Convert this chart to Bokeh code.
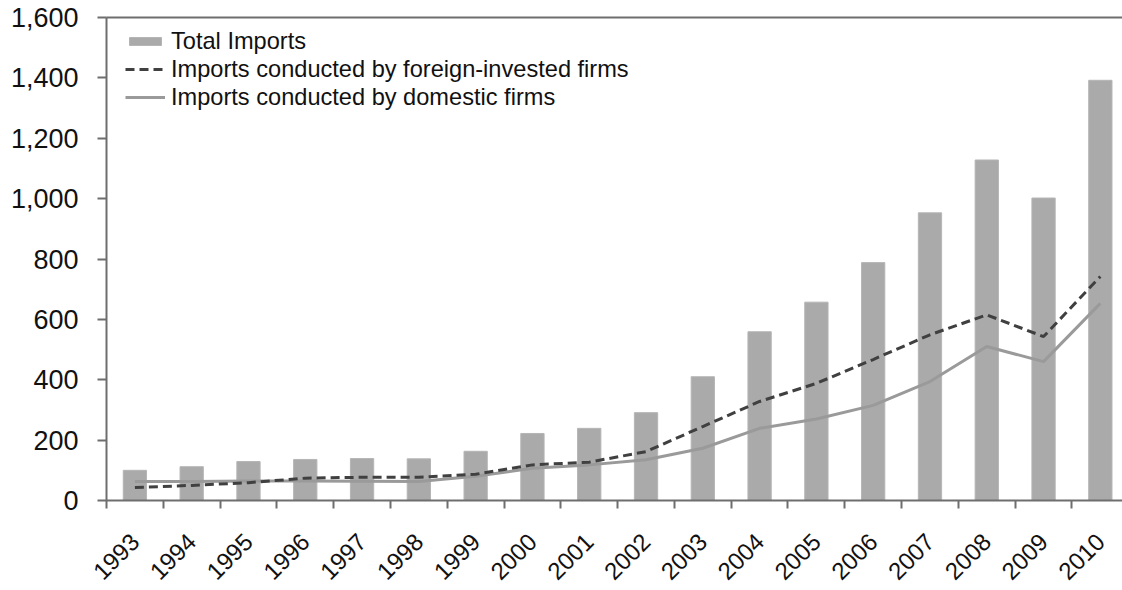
import math
from bokeh.plotting import figure
from bokeh.models import (Range1d, FixedTicker, LinearAxis, NumeralTickFormatter,
                          ColumnDataSource, Legend, LegendItem)
from bokeh.embed import file_html
from bokeh.resources import INLINE

years = [str(y) for y in range(1993, 2011)]
total_imports = [100, 112, 129, 136, 139, 138, 163, 222, 239, 291, 410, 559,
                 657, 788, 953, 1128, 1002, 1392]
foreign_firms = [43, 50, 59, 74, 77, 77, 87, 118, 127, 162, 245, 328,
                 388, 467, 549, 615, 543, 742]
domestic_firms = [63, 63, 65, 65, 64, 63, 80, 107, 118, 135, 173, 239,
                  270, 315, 394, 510, 460, 653]
y_ticks = [0, 200, 400, 600, 800, 1000, 1200, 1400, 1600]

xpos = list(range(len(years)))
src = ColumnDataSource(dict(x=xpos, total=total_imports, foreign=foreign_firms,
                            domestic=domestic_firms))

FONT = "Liberation Sans"
AXIS_COLOR = "#6e6e6e"

p = figure(width=1122, height=590, output_backend="svg", toolbar_location=None,
           x_range=Range1d(-0.5, 17.39), y_range=Range1d(0, 1600),
           x_axis_type=None, y_axis_type=None)
p.min_border_left = 106
p.min_border_right = 0
p.min_border_top = 17
p.min_border_bottom = 90
p.outline_line_color = None
p.xgrid.visible = False
p.ygrid.visible = False
p.background_fill_color = "white"
p.border_fill_color = "white"

bars = p.vbar(x="x", top="total", width=0.41, source=src,
              fill_color="#aaaaaa", line_color="#b5b5b5", line_width=1)
dom = p.line(x="x", y="domestic", source=src, line_color="#9a9a9a", line_width=3)
forl = p.line(x="x", y="foreign", source=src, line_color="#404040", line_width=3,
              line_dash="9 5")

# y axis
yax = LinearAxis(ticker=FixedTicker(ticks=y_ticks),
                 formatter=NumeralTickFormatter(format="0,0"))
yax.axis_line_color = AXIS_COLOR
yax.axis_line_width = 2
yax.major_tick_line_color = AXIS_COLOR
yax.major_tick_line_width = 2
yax.major_tick_out = 9
yax.major_tick_in = 0
yax.minor_tick_line_color = None
yax.major_label_text_font = FONT
yax.major_label_text_font_size = "27px"
yax.major_label_text_color = "#111111"
yax.major_label_standoff = 19
p.add_layout(yax, "left")

# x axis: labels at centres, tick marks at boundaries
xax = LinearAxis(ticker=FixedTicker(ticks=xpos,
                                    minor_ticks=[i - 0.5 for i in range(len(years) + 1)]))
xax.major_label_overrides = {i: y for i, y in zip(xpos, years)}
xax.axis_line_color = AXIS_COLOR
xax.axis_line_width = 2
xax.major_tick_line_color = None
xax.major_tick_out = 0
xax.major_tick_in = 0
xax.minor_tick_line_color = AXIS_COLOR
xax.minor_tick_line_width = 2
xax.minor_tick_out = 8
xax.minor_tick_in = 0
xax.major_label_orientation = math.pi / 4
xax.major_label_text_font = FONT
xax.major_label_text_font_size = "24px"
xax.major_label_text_color = "#111111"
xax.major_label_standoff = 29
p.add_layout(xax, "below")

# top border line
top = LinearAxis(ticker=FixedTicker(ticks=[]))
top.axis_line_color = AXIS_COLOR
top.axis_line_width = 2
top.major_tick_line_color = None
top.minor_tick_line_color = None
top.major_label_text_font_size = "0px"
p.add_layout(top, "above")

legend = Legend(items=[
    LegendItem(label="Total Imports", renderers=[bars]),
    LegendItem(label="Imports conducted by foreign-invested firms", renderers=[forl]),
    LegendItem(label="Imports conducted by domestic firms", renderers=[dom]),
], location=(19, 389))
legend.background_fill_alpha = 0
legend.border_line_color = None
legend.margin = 0
legend.padding = 0
legend.glyph_width = 40
legend.glyph_height = 10
legend.label_height = 28
legend.spacing = 0
legend.label_standoff = 6
legend.label_text_font = FONT
legend.label_text_font_size = "23.6px"
legend.label_text_color = "#111111"
p.add_layout(legend)

open("out.html", "w").write(file_html(p, INLINE))
